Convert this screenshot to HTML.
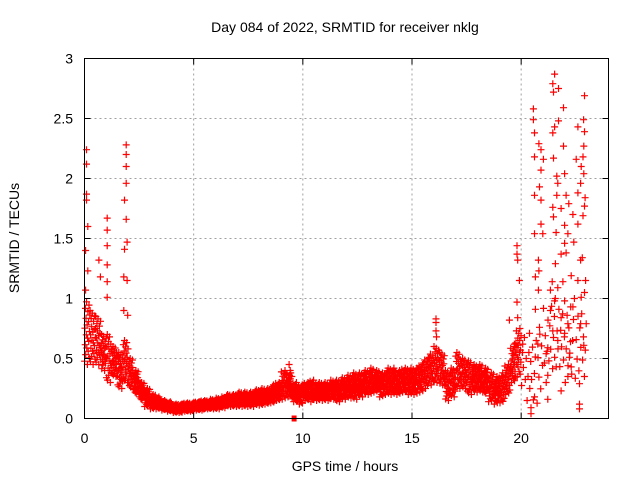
<!DOCTYPE html>
<html><head><meta charset="utf-8"><style>
html,body{margin:0;padding:0;background:#fff;}
svg{display:block;font-family:"Liberation Sans",sans-serif;}
</style></head><body>
<svg id="chart" width="640" height="480" viewBox="0 0 640 480" xmlns="http://www.w3.org/2000/svg">
<rect x="0" y="0" width="640" height="480" fill="#fff"/>
<text x="345" y="32" font-size="14" text-anchor="middle">Day 084 of 2022, SRMTID for receiver nklg</text>
<text x="345" y="471" font-size="14" text-anchor="middle">GPS time / hours</text>
<text x="19" y="238" font-size="14" text-anchor="middle" transform="rotate(-90 19 238)">SRMTID / TECUs</text>
<g id="grid"></g>
<g id="marks"></g>
<rect x="84.5" y="58.5" width="524" height="360" fill="none" stroke="#000" stroke-width="1"/>
<g id="axes"></g>
</svg>
<script>
const xTicks = [0, 5, 10, 15, 20];
const yTicks = [0, 0.5, 1, 1.5, 2, 2.5, 3];
const yTickLabels = ["0", "0.5", "1", "1.5", "2", "2.5", "3"];
const binStep = 0.25;
const bandLo = [.45,.45,.45,.4, .3,.35,.25,.3, .25,.2,.15,.1, .08,.08,.07,.06, .05,.05,.06,.06, .07,.07,.08,.08, .08,.09,.1,.1, .1,.1,.1,.11, .11,.12,.13,.15, .16,.18,.14,.12, .15,.14,.15,.15, .15,.16,.14,.16, .17,.16,.18,.2, .2,.22,.18,.2, .2,.2,.22,.2, .2,.22,.25,.28, .3,.28,.15,.18, .25,.25,.2,.22, .22,.2,.14,.12, .13,.2,.3,.35, .2,.15,.1,.15, .3,.35,.4,.35, .3,.3,.3,.35];
const bandHi = [1.0,.9,.85,.7, .7,.6,.55,.65, .5,.4,.3,.25, .2,.18,.15,.14, .12,.12,.13,.13, .14,.15,.15,.16, .17,.18,.2,.2, .22,.22,.22,.24, .25,.25,.28,.3, .4,.38,.3,.28, .3,.32,.3,.3, .3,.32,.32,.34, .36,.38,.38,.4, .42,.4,.38,.42, .42,.4,.42,.42, .42,.45,.5,.55, .6,.55,.4,.42, .55,.5,.48,.45, .45,.42,.38,.35, .38,.45,.6,.75, .7,.65,.65,.8, .95,1.0,1.0,.9, 1.0,1.0,.95,.9];
const spreadPattern = [0.05,0.55,0.3,0.85,0.15,0.7,0.45,0.95,0.25,0.6,0.0,0.4,0.8,0.2,0.65,0.35,0.9,0.1,0.5,0.75,1.0];
const outHours = [0.09,0.09,0.09,0.09,0.15,0.05,1.04,1.04,1.04,1.04,0.66,0.15,1.91,1.91,1.91,1.91,1.83,1.91,1.95,1.83,1.8,1.95,1.8,1.98,1.04,1.04,0.73,0.05,
 9.37,9.42,16.1,16.1,16.1,16.12,
 20.56,20.56,20.61,20.81,20.91,20.61,21.02,20.91,20.84,20.61,20.91,20.91,20.61,20.99,20.79,20.81,20.65,20.65,20.79,
 21.53,21.45,21.71,21.48,21.94,21.71,21.53,21.45,21.94,21.48,21.63,21.99,21.68,21.63,22.06,22.18,21.45,21.83,22.37,21.48,21.99,21.6,22.6,22.14,22.41,21.99,21.83,22.06,21.57,
 22.6,22.9,22.86,22.9,22.87,22.52,22.83,22.75,22.87,22.72,22.6,22.93,22.9,22.83,22.8,22.72,22.29,22.6,22.95,22.9,22.75,
 21.42,21.34,21.68,21.91,21.53,21.99,22.37,21.34,21.83,22.14,22.72,21.45,21.99,21.68,22.26,22.87,21.22,21.14,21.53,22.21,22.29,22.14,21.22,22.67,21.83,22.67,22.67,21.22,20.45,20.45,20.61,20.38,20.84,20.76,
 19.81,19.81,19.84,19.92,19.81,19.84,19.46,19.69,20.07];
const outValues = [2.24,2.12,1.87,1.82,1.6,1.4,1.67,1.57,1.44,1.28,1.32,1.23,2.28,2.2,2.1,1.96,1.82,1.66,1.47,1.41,1.18,1.15,0.9,0.86,1.14,1.01,1.18,1.07,
 0.45,0.4,0.83,0.8,0.73,0.68,
 2.58,2.49,2.38,2.29,2.24,2.18,2.16,2.07,1.93,1.86,1.82,1.62,1.54,1.54,1.32,1.23,1.18,0.91,1.07,
 2.87,2.79,2.75,2.72,2.59,2.48,2.43,2.38,2.27,2.17,2.02,2.04,1.96,1.86,1.86,1.79,1.76,1.75,1.70,1.68,1.61,1.55,1.62,1.54,1.47,1.46,1.37,1.38,1.29,
 2.43,2.69,2.49,2.39,2.27,2.16,2.18,2.1,2.04,1.96,1.88,1.84,1.77,1.69,1.34,1.32,1.19,1.15,1.15,1.05,1.01,
 1.14,1.07,1.09,1.14,0.98,0.98,0.93,0.9,0.84,0.79,0.79,0.73,0.71,0.65,0.64,0.61,0.59,0.54,0.51,0.51,0.43,0.35,0.36,0.29,0.23,0.12,0.08,0.16,0.04,0.09,0.18,0.71,0.76,0.62,
 1.44,1.37,1.32,1.15,0.97,0.84,0.82,0.62,0.62];

const NS = "http://www.w3.org/2000/svg";
const X0 = 84.5, X1 = 608.5, Y0 = 418.5, Y1 = 58.5, XMAX = 24, YMAX = 3;
function xs(h){ return X0 + (h / XMAX) * (X1 - X0); }
function ys(v){ return Y0 - (v / YMAX) * (Y0 - Y1); }
function mk(tag, attrs){ const e = document.createElementNS(NS, tag); for (const k in attrs) e.setAttribute(k, attrs[k]); return e; }

const grid = document.getElementById('grid');
const axes = document.getElementById('axes');
xTicks.forEach(t => {
  const x = xs(t);
  if (t > 0) {
    const g = mk('line', {x1:x, y1:Y1, x2:x, y2:Y0, stroke:'#a0a0a0', 'stroke-dasharray':'2,3'});
    
    
    grid.appendChild(g);
  }
  const tk = mk('path', {d:`M${x},${Y0}v-6M${x},${Y1}v6`, stroke:'#000'});
  
  
  axes.appendChild(tk);
  const lb = mk('text', {x:x, y:443, 'font-size':14, 'text-anchor':'middle'});
  lb.textContent = String(t);
  
  
  axes.appendChild(lb);
});
yTicks.forEach((t, i) => {
  const y = ys(t);
  if (t > 0 && t < YMAX) {
    const g = mk('line', {x1:X0, y1:y, x2:X1, y2:y, stroke:'#a0a0a0', 'stroke-dasharray':'2,3'});
    
    
    grid.appendChild(g);
  }
  const tk = mk('path', {d:`M${X0},${y}h6M${X1},${y}h-6`, stroke:'#000'});
  
  
  axes.appendChild(tk);
  const lb = mk('text', {x:73, y:y + 5, 'font-size':14, 'text-anchor':'end'});
  lb.textContent = yTickLabels[i];
  
  
  axes.appendChild(lb);
});

const marks = document.getElementById('marks');
let d = '';
function cross(h, v){ const x = xs(h), y = ys(v); d += `M${(x-3.5).toFixed(1)},${y.toFixed(1)}h7M${x.toFixed(1)},${(y-3.5).toFixed(1)}v7`; }
let pi = 0;
bandLo.forEach((lo, b) => {
  const hi = bandHi[b];
  const start = b * binStep;
  const n = start >= 20 ? 6 : 20;
  for (let k = 0; k < n; k++) {
    const f = spreadPattern[pi % spreadPattern.length]; pi++;
    cross(start + (k + 0.5) * binStep / n, lo + (hi - lo) * f);
  }
});
outHours.forEach((h, i) => cross(h, outValues[i]));
const path = mk('path', {d:d, stroke:'#ff0000', 'stroke-width':1.2, fill:'none'});


marks.appendChild(path);
const sq = mk('rect', {x:xs(9.6)-2.5, y:ys(0)-3, width:5, height:6, fill:'#ff0000'});


marks.appendChild(sq);
</script>
</body></html>
